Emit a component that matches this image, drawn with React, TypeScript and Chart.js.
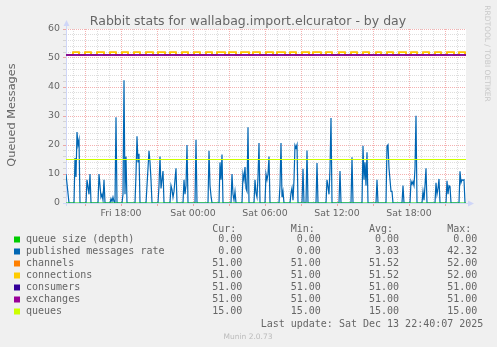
import React, { useEffect, useRef } from 'react';
import { Chart, registerables } from 'chart.js';

Chart.register(...registerables);

// ---------- text ----------
const TITLE = 'Rabbit stats for wallabag.import.elcurator - by day';
const Y_TITLE = 'Queued Messages';
const LAST_UPDATE = 'Last update: Sat Dec 13 22:40:07 2025';
const MUNIN_VERSION = 'Munin 2.0.73';
const WATERMARK = 'RRDTOOL / TOBI OETIKER';
const DAY_NAMES = ['Fri', 'Sat'];
const COLUMN_HEADERS = ['Cur:', 'Min:', 'Avg:', 'Max:'];

// ---------- axes (x in minutes since Fri 00:00) ----------
const X_MIN = 805;   // Fri 13:25
const X_MAX = 2805;  // Sat 22:45
const Y_MIN = 0;
const Y_MAX = 60;

// ---------- series ----------
const seriesNames = [
  'queue size (depth)',
  'published messages rate',
  'channels',
  'connections',
  'consumers',
  'exchanges',
  'queues',
];
const seriesColors = ['#00CC00', '#0066B3', '#FF8000', '#FFCC00', '#330099', '#990099', '#CCFF00'];
const curValues = ['0.00', '0.00', '51.00', '51.00', '51.00', '51.00', '15.00'];
const minValues = ['0.00', '0.00', '51.00', '51.00', '51.00', '51.00', '15.00'];
const avgValues = ['0.00', '3.03', '51.52', '51.52', '51.00', '51.00', '15.00'];
const maxValues = ['0.00', '42.32', '52.00', '52.00', '51.00', '51.00', '15.00'];

const queueSizePoints: [number, number][] = [[805, 0], [2805, 0]];
const consumersPoints: [number, number][] = [[805, 51], [2805, 51]];
const exchangesPoints: [number, number][] = [[805, 51], [2805, 51]];
const queuesPoints: [number, number][] = [[805, 15], [2805, 15]];

// channels / connections: base 51, periods at 52 given as [rise, fall] minutes
const CONN_BASE = 51;
const CONN_HIGH = 52;
const connectionsHighPeriods: [number, number][] = [
  [840, 870], [900, 930], [960, 995], [1025, 1055], [1085, 1115], [1145, 1175],
  [1205, 1240], [1265, 1300], [1325, 1355], [1385, 1415], [1445, 1475], [1505, 1535],
  [1560, 1600], [1620, 1655], [1680, 1720], [1740, 1775], [1805, 1840], [1860, 1900],
  [1925, 1955], [1985, 2020], [2040, 2080], [2105, 2135], [2170, 2200], [2230, 2260],
  [2290, 2320], [2355, 2380], [2410, 2440], [2470, 2505], [2530, 2560], [2590, 2620],
  [2650, 2680], [2710, 2745], [2770, 2800],
];
const channelsHighPeriods: [number, number][] = connectionsHighPeriods;

const publishedPoints: [number, number][] = [
  [805, 10], [820, 0],
  [845, 0], [850, 15.5], [855, 9], [860, 24.5], [865, 20], [870, 21.8], [875, 0],
  [905, 0], [910, 8], [920, 3], [925, 10], [930, 0],
  [965, 0], [970, 10], [980, 2], [985, 3], [990, 1], [995, 8], [1000, 0],
  [1025, 0], [1030, 1.5], [1035, 0.5], [1040, 2], [1045, 0.5], [1050, 0], [1055, 29.6], [1060, 0],
  [1085, 0], [1090, 3], [1095, 42.3], [1100, 3], [1105, 16], [1110, 0],
  [1150, 0], [1155, 10], [1160, 23], [1165, 14], [1170, 17], [1175, 0],
  [1205, 0], [1210, 6], [1215, 12], [1220, 18], [1225, 14], [1230, 8], [1235, 0],
  [1265, 0], [1270, 6], [1275, 16], [1280, 5], [1285, 8], [1290, 11], [1295, 0],
  [1325, 0], [1330, 6], [1335, 4.6], [1340, 2], [1345, 4], [1350, 8], [1355, 12], [1360, 0],
  [1390, 0], [1395, 8], [1400, 3], [1405, 6], [1410, 20], [1415, 0],
  [1450, 0], [1455, 21.8], [1460, 0],
  [1515, 0], [1520, 18], [1525, 6], [1530, 2.5], [1535, 0],
  [1570, 0], [1575, 14], [1580, 8], [1585, 16.7], [1590, 0],
  [1630, 0], [1635, 10], [1640, 3], [1645, 1], [1650, 4], [1655, 0],
  [1685, 0], [1690, 10], [1695, 8], [1700, 12.4], [1705, 5], [1710, 4], [1715, 26.1], [1720, 0],
  [1745, 0], [1750, 8], [1755, 3.5], [1760, 2], [1765, 9], [1770, 20.7], [1775, 0],
  [1800, 0], [1805, 10], [1810, 8], [1815, 10], [1820, 16], [1825, 0],
  [1870, 0], [1875, 6], [1880, 20.7], [1885, 2], [1890, 4], [1895, 0],
  [1925, 0], [1930, 3.4], [1935, 5.2], [1940, 1], [1945, 8], [1950, 19.9], [1955, 19], [1960, 20.1], [1965, 0],
  [1985, 0], [1990, 11.8], [1995, 0],
  [2005, 0], [2010, 18.1], [2015, 0],
  [2055, 0], [2060, 13.8], [2065, 0],
  [2105, 0], [2110, 8], [2115, 5.7], [2120, 3], [2125, 12], [2130, 29.3], [2135, 0],
  [2170, 0], [2175, 11], [2180, 0],
  [2230, 0], [2235, 15.8], [2240, 0],
  [2285, 0], [2290, 19.7], [2295, 8], [2300, 14], [2305, 6], [2310, 17.5], [2315, 0],
  [2355, 0], [2360, 8], [2365, 0],
  [2405, 0], [2410, 19.6], [2415, 20.1], [2420, 12], [2425, 8], [2430, 4], [2435, 4], [2440, 0],
  [2485, 0], [2490, 6], [2495, 0],
  [2525, 0], [2530, 7.5], [2535, 6.5], [2540, 7.4], [2545, 6], [2550, 12], [2555, 30.1], [2560, 0],
  [2585, 0], [2590, 4], [2595, 1], [2600, 6], [2605, 12], [2610, 0],
  [2650, 0], [2655, 7], [2660, 3], [2665, 5], [2670, 8.3], [2675, 0],
  [2705, 0], [2710, 7.7], [2715, 3], [2720, 6], [2725, 5.7], [2730, 0],
  [2770, 0], [2775, 10.9], [2780, 7], [2785, 8], [2790, 7.8], [2795, 8], [2800, 0],
];

// ---------- styling ----------
const FONT_COLOR = '#666666';
const AXIS_COLOR = '#CFD6F8';
const MINOR_GRID = 'rgba(150,150,150,0.32)';
const MAJOR_GRID = 'rgba(225,40,40,0.36)';

const toXY = (pts: [number, number][]) => pts.map(([x, y]) => ({ x, y }));

function stepPoints(base: number, high: number, periods: [number, number][]) {
  const out = [{ x: X_MIN, y: base }];
  periods.forEach(([r, f]) => {
    out.push({ x: r, y: high });
    out.push({ x: f, y: base });
  });
  out.push({ x: X_MAX, y: base });
  return out;
}

function formatTime(v: number) {
  const day = DAY_NAMES[Math.floor(v / 1440)] || '';
  const h = Math.floor((v % 1440) / 60);
  return `${day} ${String(h).padStart(2, '0')}:00`;
}

const muninFrame = {
  id: 'muninFrame',
  beforeDraw(chart: any) {
    const { ctx, chartArea: a } = chart;
    ctx.save();
    ctx.fillStyle = '#FFFFFF';
    ctx.fillRect(a.left, a.top, a.right - a.left, a.bottom - a.top);
    ctx.restore();
  },
  beforeDatasetsDraw(chart: any) {
    const { ctx, chartArea: a } = chart;
    const yb = Math.round(chart.scales.y.getPixelForValue(0)) + 0.5;
    const xl = Math.round(chart.scales.x.getPixelForValue(X_MIN)) + 0.5;
    ctx.save();
    ctx.strokeStyle = AXIS_COLOR;
    ctx.fillStyle = AXIS_COLOR;
    ctx.lineWidth = 1;
    ctx.beginPath();
    ctx.moveTo(a.left - 3, yb);
    ctx.lineTo(a.right + 3, yb);
    ctx.moveTo(xl, a.bottom + 3);
    ctx.lineTo(xl, a.top - 3);
    ctx.stroke();
    ctx.beginPath();
    ctx.moveTo(a.right + 2, yb - 3);
    ctx.lineTo(a.right + 8, yb);
    ctx.lineTo(a.right + 2, yb + 3);
    ctx.closePath();
    ctx.fill();
    ctx.beginPath();
    ctx.moveTo(xl - 3, a.top - 3);
    ctx.lineTo(xl, a.top - 9);
    ctx.lineTo(xl + 3, a.top - 3);
    ctx.closePath();
    ctx.fill();
    ctx.restore();
  },
};

export default function App() {
  const canvasRef = useRef<HTMLCanvasElement>(null);

  useEffect(() => {
    const canvas = canvasRef.current;
    if (!canvas) return;
    const line = (i: number, data: any[], order: number, extra: any = {}) => ({
      label: seriesNames[i],
      data,
      borderColor: seriesColors[i],
      backgroundColor: seriesColors[i],
      borderWidth: 1.2,
      pointRadius: 0,
      fill: false,
      tension: 0,
      order,
      ...extra,
    });
    const chart = new Chart(canvas, {
      type: 'line',
      data: {
        datasets: [
          line(0, toXY(queueSizePoints), 6),
          line(1, toXY(publishedPoints), 7),
          line(2, stepPoints(CONN_BASE, CONN_HIGH, channelsHighPeriods), 5, { stepped: true, borderWidth: 1.5 }),
          line(3, stepPoints(CONN_BASE, CONN_HIGH, connectionsHighPeriods), 4, { stepped: true, borderWidth: 1.5 }),
          line(4, toXY(consumersPoints), 3, { borderWidth: 1.5 }),
          line(5, toXY(exchangesPoints), 2, { borderWidth: 1.5 }),
          line(6, toXY(queuesPoints), 1, { borderWidth: 1.2 }),
        ],
      },
      options: {
        responsive: false,
        animation: false,
        events: [],
        layout: { padding: { left: 0, top: 29, right: 31, bottom: 124 } },
        plugins: { legend: { display: false }, tooltip: { enabled: false }, title: { display: false } },
        scales: {
          x: {
            type: 'linear',
            min: X_MIN,
            max: X_MAX,
            ticks: {
              stepSize: 60,
              includeBounds: false,
              autoSkip: false,
              maxRotation: 0,
              padding: 2,
              color: FONT_COLOR,
              font: { family: 'DejaVu Sans', size: 9.4 },
              callback: (v: any) => (Number(v) % 360 === 0 ? formatTime(Number(v)) : ''),
            },
            grid: {
              color: (c: any) => (c.tick && c.tick.value % 180 === 0 ? MAJOR_GRID : MINOR_GRID),
              tickColor: (c: any) => (c.tick && c.tick.value % 180 === 0 ? MAJOR_GRID : 'rgba(0,0,0,0)'),
              tickLength: 3,
              lineWidth: 1,
            },
            border: { display: false, dash: [1, 1] },
            afterFit: (s: any) => { s.height = 20; },
          },
          y: {
            type: 'linear',
            min: Y_MIN,
            max: Y_MAX,
            ticks: {
              stepSize: 2,
              autoSkip: false,
              padding: 3,
              color: FONT_COLOR,
              font: { family: 'DejaVu Sans', size: 9.4 },
              callback: (v: any) => (Number(v) % 10 === 0 ? String(v) : ''),
            },
            grid: {
              color: (c: any) => (c.tick && c.tick.value % 10 === 0 ? MAJOR_GRID : MINOR_GRID),
              tickLength: 3,
              lineWidth: 1,
            },
            border: { display: false, dash: [1, 1] },
            afterFit: (s: any) => { s.width = 66; },
          },
        },
      },
      plugins: [muninFrame],
    } as any);
    return () => chart.destroy();
  }, []);

  const colEnds = [242.4, 320.8, 399.1, 477.4];
  const rowBase = 242.3;
  const rowStep = 12;
  const cols = [curValues, minValues, avgValues, maxValues];

  return (
    <div style={{ position: 'fixed', left: 0, top: 0, width: 497, height: 347, background: '#F0F0F0', overflow: 'hidden' }}>
      <canvas ref={canvasRef} width={497} height={347} style={{ position: 'absolute', left: 0, top: 0, width: 497, height: 347 }} />
      <svg width={497} height={347} style={{ position: 'absolute', left: 0, top: 0, pointerEvents: 'none' }}>
        <text x={248} y={24.5} textAnchor="middle" fontFamily="DejaVu Sans" fontSize={12.5} fill={FONT_COLOR}>{TITLE}</text>
        <text transform="translate(15,115) rotate(-90)" textAnchor="middle" fontFamily="DejaVu Sans" fontSize={11.3} fill={FONT_COLOR}>{Y_TITLE}</text>
        <text transform="translate(485,53.5) rotate(90)" textAnchor="middle" fontFamily="DejaVu Sans" fontSize={7.5} fill="#C8C8C8">{WATERMARK}</text>
        <g fontFamily="DejaVu Sans Mono" fontSize={10} fill={FONT_COLOR}>
          {COLUMN_HEADERS.map((h, j) => (
            <text key={'h' + j} x={colEnds[j] - 6} y={231.6} textAnchor="end">{h}</text>
          ))}
          {seriesNames.map((name, i) => (
            <g key={name}>
              <rect x={14} y={rowBase + i * rowStep - 5.8} width={6} height={6} fill={seriesColors[i]} />
              <text x={26} y={rowBase + i * rowStep}>{name}</text>
              {cols.map((col, j) => (
                <text key={j} x={colEnds[j]} y={rowBase + i * rowStep} textAnchor="end">{col[i]}</text>
              ))}
            </g>
          ))}
          <text x={483.4} y={326.5} textAnchor="end">{LAST_UPDATE}</text>
        </g>
        <text x={248} y={339} textAnchor="middle" fontFamily="DejaVu Sans" fontSize={7.5} fill="#BBBBBB">{MUNIN_VERSION}</text>
      </svg>
    </div>
  );
}
